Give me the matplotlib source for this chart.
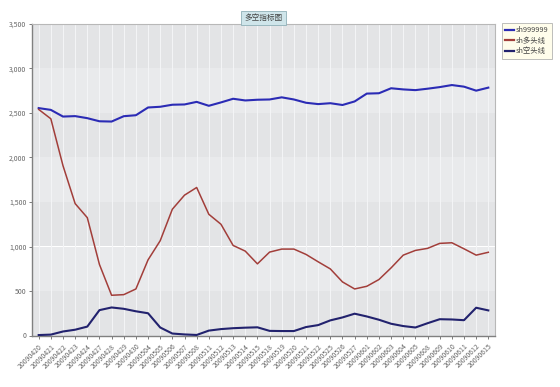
import matplotlib
matplotlib.use("Agg")
import matplotlib.pyplot as plt
import numpy as np

plt.rcParams["font.family"] = ["Noto Sans CJK SC", "DejaVu Sans"]

dates = [
    "20090420", "20090421", "20090422", "20090423", "20090424", "20090427",
    "20090428", "20090429", "20090430", "20090504", "20090505", "20090506",
    "20090507", "20090508", "20090511", "20090512", "20090513", "20090514",
    "20090515", "20090518", "20090519", "20090520", "20090521", "20090522",
    "20090525", "20090526", "20090527", "20090601", "20090602", "20090603",
    "20090604", "20090605", "20090608", "20090609", "20090610", "20090611",
    "20090612", "20090615",
]
index_close = [
    2555, 2535, 2460, 2465, 2442, 2407, 2404, 2464, 2475, 2562, 2570, 2593,
    2596, 2625, 2581, 2619, 2660, 2641, 2649, 2652, 2676, 2652, 2615, 2600,
    2610, 2590, 2630, 2718, 2722, 2778, 2765, 2757, 2773, 2791, 2814, 2796,
    2751, 2785,
]
long_line = [
    2540, 2435, 1908, 1482, 1324, 798, 452, 459, 523, 850, 1065, 1419,
    1577, 1663, 1362, 1250, 1012, 948, 805, 937, 971, 971, 911, 828,
    748, 602, 523, 553, 629, 760, 903, 956, 979, 1035, 1042, 974,
    903, 935,
]
short_line = [
    5, 10, 45, 65, 100, 285, 315, 300, 272, 250, 90, 22,
    12, 6, 55, 72, 82, 88, 92, 52, 50, 50, 95, 117,
    170, 203, 245, 214, 177, 132, 106, 90, 138, 183, 180, 172,
    312, 282,
]
series_names = ["sh999999", "sh多头线", "sh空头线"]
series_colors = ["#2b2bb5", "#a23e3a", "#22226e"]

fig = plt.figure(figsize=(5.6, 3.87), dpi=100)
ax = fig.add_axes([32 / 560, 1 - 335.5 / 387, 463 / 560, 311.5 / 387])

x = np.arange(len(dates))
ymax = 3500
# alternating horizontal bands
for i, lo in enumerate(range(0, ymax, 500)):
    ax.axhspan(lo, lo + 500, color="#e3e4e6" if i % 2 == 0 else "#e9eaec",
               lw=0, zorder=0)
for xi in x:
    ax.axvline(xi, color="#f3f4f6", lw=0.8, zorder=1)

for vals, name, col, lw in zip([index_close, long_line, short_line],
                               series_names, series_colors, [1.5, 1.1, 1.5]):
    ax.plot(x, vals, color=col, lw=lw, label=name, zorder=3)

ax.set_xlim(-0.55, len(dates) - 0.45)
ax.set_ylim(0, ymax)
ax.set_yticks(range(0, ymax + 1, 500))
ax.set_yticklabels([f"{v:,}" for v in range(0, ymax + 1, 500)])
ax.set_xticks(x)
ax.set_xticklabels(dates, rotation=45, ha="right", rotation_mode="anchor")
ax.tick_params(axis="both", labelsize=5, colors="#666666", length=2,
               width=0.6, pad=2)
ax.tick_params(axis="x", pad=3)

for side in ["top", "right"]:
    ax.spines[side].set_color("#b8b8b8")
    ax.spines[side].set_linewidth(0.8)
for side in ["left", "bottom"]:
    ax.spines[side].set_color("#808080")
    ax.spines[side].set_linewidth(1.0)

ax.text(0.5, 1.006, "多空指标图", transform=ax.transAxes, ha="center",
        va="bottom", fontsize=5.5, color="#444444",
        bbox=dict(boxstyle="square,pad=0.4", fc="#cfe5ea", ec="#8fb0b8",
                  lw=0.6))

leg = fig.legend(loc="upper left", bbox_to_anchor=(502 / 560, 1 - 23 / 387),
                 fontsize=5.3, frameon=True, handlelength=1.2, handletextpad=0.25,
                 borderpad=0.45, borderaxespad=0, labelspacing=0.35,
                 fancybox=False)
leg.get_frame().set_facecolor("#fffde6")
leg.get_frame().set_edgecolor("#a0a0a0")
leg.get_frame().set_linewidth(0.6)
for line in leg.get_lines():
    line.set_linewidth(1.6)
for t in leg.get_texts():
    t.set_color("#444444")

fig.savefig("out.png", dpi=100)
